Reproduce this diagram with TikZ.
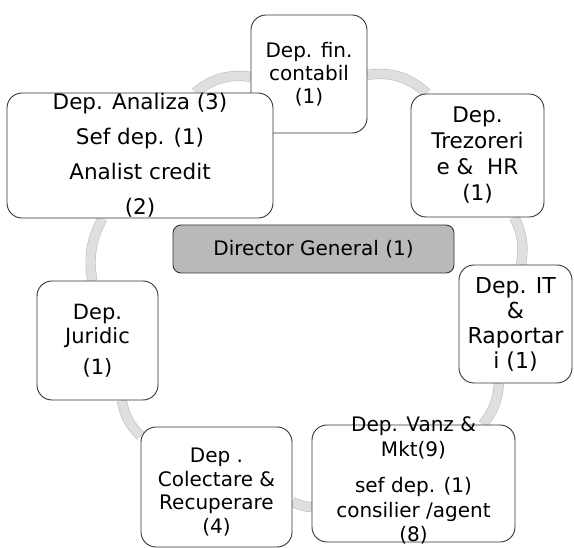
\documentclass[tikz,border=0pt]{standalone}
\usepackage{fontspec}
\setmainfont{DejaVu Sans}
\usetikzlibrary{backgrounds}

\begin{document}
\begin{tikzpicture}[x=1pt, y=1pt,
    dep/.style={draw=black!80, line width=0.9pt, fill=white, rounded corners=15pt, inner sep=0pt},
    txt/.style={align=center, inner sep=0pt, font=\fontsize{20}{23}\selectfont},
    link/.style={draw=gray!50, line width=0.6pt, double=gray!25, double distance=9pt}]
  \useasboundingbox (0,0) rectangle (574,-548);

  % departments
  \node[dep, minimum width=116pt, minimum height=118pt] (1) at (309,-74) {};
  \node[dep, minimum width=133pt, minimum height=123pt] (2) at (477.5,-155.5) {};
  \node[dep, minimum width=113pt, minimum height=118pt] (3) at (515.5,-324) {};
  \node[dep, minimum width=203pt, minimum height=117pt] (4) at (413.5,-483.5) {};
  \node[dep, minimum width=151pt, minimum height=120pt] (5) at (216.5,-487) {};
  \node[dep, minimum width=121pt, minimum height=119pt] (6) at (97.5,-340.5) {};
  \node[dep, minimum width=266pt, minimum height=125pt] (7) at (140,-155.5) {};

  % director
  \node[dep, fill=gray!55, rounded corners=8pt, minimum width=281pt, minimum height=48pt,
        font=\fontsize{20}{24}\selectfont, text=black] (dg) at (313.5,-249) {Director General (1)};

  % labels
  \node[txt] (t1) at (1) {Dep. fin.\\contabil\\(1)};
  \node[txt, font=\fontsize{21.5}{26}\selectfont] (t2) at (2) {Dep.\\Trezoreri\\e \&\ \ HR\\(1)};
  \node[txt, font=\fontsize{22}{25}\selectfont] (t3) at (3) {Dep. IT\\\&\\Raportar\\i (1)};
  \node[txt, font=\fontsize{20}{24.5}\selectfont] (t4) at ([yshift=3pt]4) {Dep. Vanz \&\\Mkt(9)\\[12pt]sef dep. (1)\\consilier /agent\\(8)};
  \node[txt, font=\fontsize{20}{23.5}\selectfont] (t5) at ([yshift=-5pt]5) {Dep .\\Colectare \&\\Recuperare\\(4)};
  \node[txt, font=\fontsize{21}{24}\selectfont] (t6) at (6) {Dep.\\Juridic\\[7pt](1)};
  \node[txt, font=\fontsize{21.5}{35}\selectfont] (t7) at (7) {Dep. Analiza (3)\\Sef dep. (1)\\Analist credit\\(2)};

  % cycle
  \begin{scope}[on background layer]
    \draw[link] (1) to[bend left=25] (2);
    \draw[link] (2) to[bend left=18] (3);
    \draw[link] (3) to[bend left=17] (4);
    \draw[link] (4) to[bend left=12] (5);
    \draw[link] (5) to[bend left=17] (6);
    \draw[link] (6) to[bend left=18] (7);
    \draw[link] (7) to[bend left=23] (1);
  \end{scope}
\end{tikzpicture}
\end{document}
